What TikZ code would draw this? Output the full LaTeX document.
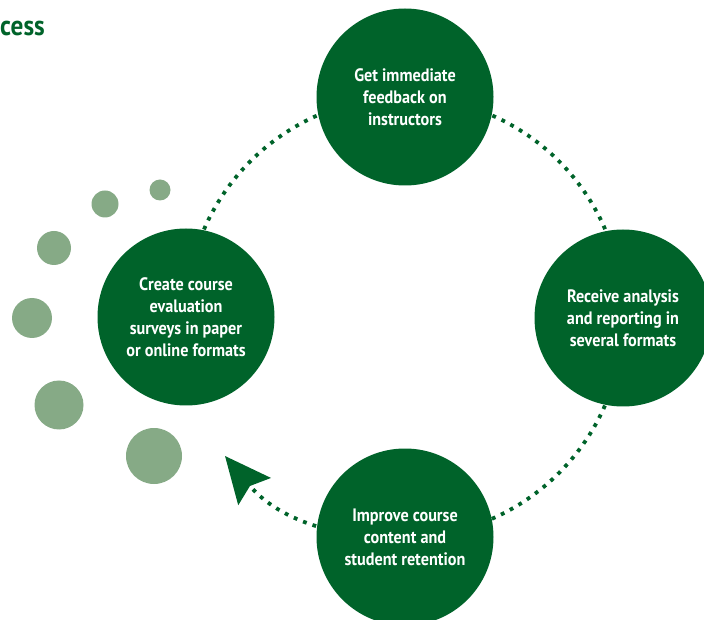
\documentclass[tikz,border=0pt]{standalone}
\usepackage{fontspec}
\setmainfont{PT Sans}[FakeStretch=0.9]
\usetikzlibrary{arrows.meta}
\definecolor{dkgreen}{RGB}{0,99,42}
\definecolor{ltgreen}{RGB}{134,170,134}
\pgfdeclarelayer{bg}
\pgfsetlayers{bg,main}
\begin{document}
\begin{tikzpicture}[x=1pt,y=1pt,
  stage/.style={circle, fill=dkgreen, minimum size=177pt, inner sep=0pt, text=white,
    font=\bfseries\fontsize{18}{22}\selectfont, align=center},
  bubble/.style={circle, fill=ltgreen, inner sep=0pt},
  dotline/.style={draw=dkgreen, line width=3.8pt, dash pattern=on 3.8pt off 6.2pt}]
\useasboundingbox (0,0) rectangle (704,619);
\clip (0,0) rectangle (704,619);
\node[anchor=west, text=dkgreen, font=\bfseries\fontsize{28}{30}\selectfont, inner sep=0pt] (title) at (0,590) {cess};
\node[stage] (top) at (405,522) {Get immediate\\feedback on\\instructors};
\node[stage] (right) at (623,301) {Receive analysis\\and reporting in\\several formats};
\node[stage] (bottom) at (405,82) {Improve course\\content and\\student retention};
\node[stage] (left) at (186,302) {Create course\\evaluation\\surveys in paper\\or online formats};
\node[bubble, minimum size=21pt] (b1) at (160,429) {};
\node[bubble, minimum size=27pt] (b2) at (105,415) {};
\node[bubble, minimum size=34pt] (b3) at (54,371) {};
\node[bubble, minimum size=40pt] (b4) at (32,301) {};
\node[bubble, minimum size=49pt] (b5) at (59,214) {};
\node[bubble, minimum size=56pt] (b6) at (154,163) {};
\coordinate (tip) at (225,163);
\begin{pgfonlayer}{bg}
\draw[dotline] (left.center) to[bend left=45] (top.center);
\draw[dotline] (top.center) to[bend left=45] (right.center);
\draw[dotline] (right.center) to[bend left=45] (bottom.center);
\draw[dotline, -{Stealth[length=46pt,width=42pt,inset=7pt]}] (bottom.center) to[bend left=26] (tip);
\end{pgfonlayer}
\end{tikzpicture}
\end{document}
